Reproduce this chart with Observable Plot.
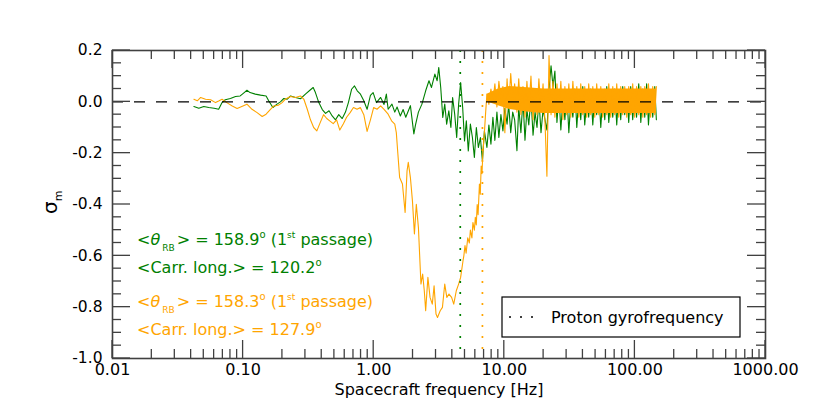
<!DOCTYPE html>
<html>
<head>
<meta charset="utf-8">
<script src="https://cdn.jsdelivr.net/npm/d3@7"></script>
<script src="https://cdn.jsdelivr.net/npm/@observablehq/plot@0.6"></script>
<style>
  body { margin: 0; background: #fff; }
  svg text { white-space: pre; }
</style>
</head>
<body>
<div id="chart"></div>
<script>
// ---------- data ----------
const greenFreq = [0.042,0.0458,0.05,0.0546,0.06,0.065,0.069,0.073,0.08,0.0875,
  0.095,0.102,0.107,0.113,0.124,0.136,0.15,0.157,0.169,0.182,
  0.193,0.205,0.217,0.231,0.252,0.275,0.3,0.328,0.344,0.358,
  0.38,0.404,0.428,0.455,0.481,0.51,0.54,0.574,0.608,0.64,
  0.677,0.713,0.748,0.792,0.84,0.89,0.944,0.99,1.05,1.13,
  1.2,1.25,1.29,1.38,1.45,1.51,1.6,1.68,1.76,1.91,
  2.03,2.09,2.2,2.34,2.5,2.65,2.77,2.94,3.06,3.15,
  3.26,3.38,3.5,3.62,3.76,3.9,4.02,4.17,4.32,4.47,
  4.63,4.8,4.96,5.12,5.3,5.5,5.7,5.9,6.11,6.33,
  6.56,6.8,7.04];
const greenSigma = [-0.018,-0.025,-0.018,-0.022,-0.025,-0.029,-0.003,0.008,0.013,0.021,
  0.023,0.036,0.045,0.036,0.030,0.026,0.023,0.004,-0.022,-0.009,
  0.0,0.013,0.010,0.023,0.017,0.012,0.030,0.047,0.056,0.036,
  -0.003,-0.03,-0.045,-0.035,-0.055,-0.07,-0.05,-0.065,-0.04,-0.003,
  0.049,0.062,0.043,0.030,0.004,-0.029,0.025,0.036,-0.003,0.017,
  -0.01,0.03,-0.029,-0.009,-0.04,-0.02,-0.055,-0.03,-0.06,-0.015,
  -0.125,-0.09,-0.04,-0.009,0.043,0.082,0.056,0.108,0.082,0.134,
  0.056,-0.061,-0.009,-0.087,-0.035,-0.1,0.017,-0.048,-0.139,-0.009,
  0.075,-0.022,-0.152,-0.074,-0.191,-0.087,-0.139,-0.217,-0.1,-0.178,
  -0.139,-0.23,-0.113];

const orangeFreq = [0.042,0.0446,0.0473,0.0516,0.0564,0.0615,0.065,0.069,0.075,0.0826,
  0.09,0.0977,0.107,0.117,0.128,0.14,0.15,0.162,0.172,0.186,
  0.199,0.21,0.231,0.252,0.275,0.292,0.31,0.328,0.347,0.367,
  0.39,0.413,0.437,0.463,0.49,0.52,0.55,0.586,0.62,0.66,
  0.7,0.746,0.79,0.84,0.89,0.944,1.0,1.06,1.13,1.2,
  1.29,1.37,1.45,1.49,1.53,1.58,1.66,1.74,1.8,1.84,
  1.91,1.98,2.05,2.12,2.2,2.3,2.37,2.44,2.5,2.6,
  2.7,2.81,2.9,3.0,3.08,3.23,3.36,3.5,3.63,3.77,
  3.95,4.1,4.29,4.47,4.63,4.83,4.9,5.0,5.1,5.25,
  5.4,5.5,5.65,5.75,5.9,6.0,6.1,6.2,6.3,6.45,
  6.55,6.65,6.75,6.85,7.04,7.2];
const orangeSigma = [0.010,0.004,0.017,0.010,0.008,-0.003,0.003,0.010,-0.003,-0.016,
  -0.026,-0.018,-0.009,-0.029,-0.042,-0.057,-0.048,-0.029,-0.016,-0.013,
  -0.003,0.010,0.021,0.017,0.023,0.010,-0.029,-0.07,-0.10,-0.113,
  -0.08,-0.05,-0.065,-0.075,-0.085,-0.07,-0.11,-0.085,-0.06,-0.042,
  -0.022,-0.029,-0.022,-0.05,-0.115,-0.07,-0.022,-0.029,-0.016,-0.029,
  -0.048,-0.074,-0.087,-0.12,-0.20,-0.295,-0.32,-0.431,-0.269,-0.236,
  -0.295,-0.386,-0.515,-0.399,-0.49,-0.71,-0.671,-0.736,-0.814,-0.684,
  -0.762,-0.788,-0.717,-0.827,-0.84,-0.814,-0.801,-0.71,-0.762,-0.749,
  -0.762,-0.788,-0.736,-0.71,-0.684,-0.619,-0.60,-0.56,-0.59,-0.53,
  -0.55,-0.50,-0.53,-0.47,-0.50,-0.45,-0.48,-0.40,-0.44,-0.32,
  -0.36,-0.25,-0.28,-0.2,-0.12,-0.04];

// high-frequency noisy band (both series share these frequency bins)
const bandFreq = [7.36,7.62,7.90,8.18,8.47,8.78,9.09,9.42,9.76,10.1,
  10.5,10.8,11.2,11.6,12.0,12.5,12.9,13.4,13.9,14.4,
  14.9,15.4,16.0,16.6,17.2,17.8,18.4,19.1,19.8,20.5,
  21.2,22.0,22.8,23.6,24.4,25.3,26.2,27.1,28.1,29.1,
  30.1,31.2,32.3,33.5,34.7,35.9,37.2,38.5,39.9,41.3,
  42.8,44.3,45.9,47.6,49.3,51.0,52.9,54.8,56.7,58.8,
  60.9,63.1,65.3,67.7,70.1,72.6,75.2,77.9,80.7,83.6,
  86.6,89.7,92.9,96.2,99.7,103,107,111,115,119,
  123,127,132,137,142,146];
const greenBand = [-0.178,-0.09,-0.165,-0.06,-0.15,-0.04,-0.139,-0.05,-0.113,-0.025,
  -0.087,-0.01,-0.12,-0.04,-0.07,-0.19,-0.02,-0.12,0.01,-0.15,
  -0.03,-0.09,0.02,-0.13,-0.04,-0.10,0.01,-0.12,-0.03,-0.07,
  -0.11,0.05,0.14,0.06,0.12,-0.08,0.03,-0.11,0.01,-0.07,
  0.04,-0.12,0.00,-0.06,0.05,-0.10,0.02,-0.07,0.06,-0.09,
  0.01,-0.06,0.05,-0.09,0.03,-0.05,0.04,-0.10,0.02,-0.07,
  0.06,-0.08,0.02,-0.06,0.05,-0.09,0.04,-0.07,0.06,-0.05,
  0.04,-0.08,0.06,-0.07,0.03,-0.06,0.07,-0.08,0.05,-0.06,
  0.07,-0.09,0.04,-0.06,0.06,-0.07];
const orangeBand = [0.03,-0.01,0.05,0.0,0.07,-0.02,0.08,0.01,0.06,-0.12,
  0.09,-0.02,0.11,0.0,0.07,-0.04,0.09,-0.05,0.06,-0.06,
  0.08,-0.03,0.10,-0.07,0.05,-0.05,0.09,-0.04,0.07,-0.08,
  -0.29,0.18,-0.05,0.08,-0.06,0.07,-0.04,0.08,-0.07,0.06,
  -0.05,0.07,-0.06,0.08,-0.04,0.06,-0.06,0.07,-0.05,0.06,
  -0.06,0.07,-0.05,0.06,-0.06,0.07,-0.05,0.06,-0.06,0.05,
  -0.05,0.07,-0.06,0.06,-0.05,0.07,-0.06,0.06,-0.05,0.06,
  -0.06,0.06,-0.05,0.07,-0.06,0.06,-0.05,0.06,-0.06,0.06,
  -0.05,0.07,-0.06,0.06,-0.05,0.06];
// solid core of the orange band
const coreFreq = [7.4, 9, 11, 15, 20, 30, 60, 100, 146];
const coreLo   = [0.0, -0.015, -0.03, -0.04, -0.045, -0.045, -0.045, -0.045, -0.045];
const coreHi   = [0.03, 0.05, 0.06, 0.055, 0.05, 0.05, 0.05, 0.05, 0.05];

// proton gyrofrequencies
const gyroFreq = [4.6, 6.8];
const gyroColor = ["green", "orange"];

// axes
const xTicks = [0.01, 0.1, 1, 10, 100, 1000];
const yTicks = [-1.0, -0.8, -0.6, -0.4, -0.2, 0.0, 0.2];
const xLabel = "Spacecraft frequency [Hz]";
const legendLabel = "Proton gyrofrequency";
const annGreen = ["158.9", "120.2"];
const annOrange = ["158.3", "127.9"];

// ---------- build ----------
const W = 830, H = 415, mL = 112, mR = 65, mT = 50, mB = 57;
const rows = (f, s) => f.map((d, i) => ({f: d, s: s[i]}));
const green = rows(greenFreq, greenSigma).concat(rows(bandFreq, greenBand));
const orange = rows(orangeFreq, orangeSigma).concat(rows(bandFreq, orangeBand));
const core = coreFreq.map((d, i) => ({f: d, lo: coreLo[i], hi: coreHi[i]}));
const xMinor = [0.01, 0.1, 1, 10, 100].flatMap(d => [2,3,4,5,6,7,8,9].map(k => k * d));
const yMinor = d3.range(-19, 4).map(k => k * 0.05).filter(v => Math.abs(Math.round(v / 0.2) * 0.2 - v) > 1e-6);
const fc = "#404040";
const font = "DejaVu Sans";

const plot = Plot.plot({
  width: W, height: H,
  marginLeft: mL, marginRight: mR, marginTop: mT, marginBottom: mB,
  style: {fontFamily: font, background: "#fff"},
  x: {type: "log", domain: [0.01, 1000]},
  y: {domain: [-1, 0.2]},
  marks: [
    Plot.line(green, {x: "f", y: "s", stroke: "green", strokeWidth: 1.1}),
    Plot.areaY(core, {x: "f", y1: "lo", y2: "hi", fill: "orange"}),
    Plot.line(orange, {x: "f", y: "s", stroke: "orange", strokeWidth: 1.1}),
    Plot.ruleY([0], {stroke: "black", strokeWidth: 1.3, strokeDasharray: "11,11"}),
    Plot.ruleX([gyroFreq[0]], {x: d => d, stroke: gyroColor[0], strokeWidth: 1.7, strokeDasharray: "2,9"}),
    Plot.ruleX([gyroFreq[1]], {x: d => d, stroke: gyroColor[1], strokeWidth: 1.7, strokeDasharray: "2,9"}),
    Plot.frame({stroke: fc, strokeWidth: 1.6}),
    Plot.axisX({ticks: xTicks, tickSize: 0, tickPadding: 5, tickFormat: d => d.toFixed(2), fontSize: 16, label: null}),
    Plot.axisY({ticks: yTicks, tickSize: 0, tickPadding: 10, tickFormat: d => d.toFixed(1), fontSize: 15.5, label: null}),
    Plot.text([xLabel], {text: d => d, frameAnchor: "bottom", dy: 31, fontSize: 16, lineAnchor: "middle", fill: "black"})
  ]
});

const svg = d3.select(plot);
const sx = plot.scale("x"), sy = plot.scale("y");
const pxLeft = sx.apply(0.01), pxRight = sx.apply(1000);
const pxBottom = sy.apply(-1), pxTop = sy.apply(0.2);

// inward ticks on all four sides, placed with the plot's own scales
const tg = svg.append("g").attr("stroke", fc).attr("stroke-width", 1.3);
function xt(v, len) {
  const x = sx.apply(v);
  tg.append("line").attr("x1", x).attr("x2", x).attr("y1", pxBottom).attr("y2", pxBottom - len);
  tg.append("line").attr("x1", x).attr("x2", x).attr("y1", pxTop).attr("y2", pxTop + len);
}
function yt(v, len) {
  const y = sy.apply(v);
  tg.append("line").attr("y1", y).attr("y2", y).attr("x1", pxLeft).attr("x2", pxLeft + len);
  tg.append("line").attr("y1", y).attr("y2", y).attr("x1", pxRight).attr("x2", pxRight - len);
}
xTicks.forEach(v => xt(v, 18));
xMinor.forEach(v => xt(v, 9));
yTicks.forEach(v => yt(v, 18));
yMinor.forEach(v => yt(v, 9));

// y-axis label sigma_m
const yl = svg.append("text")
  .attr("transform", "translate(57,214) rotate(-90)").attr("text-anchor", "start")
  .attr("font-family", font).attr("font-size", 20).attr("fill", "black");
yl.append("tspan").text("σ");
yl.append("tspan").attr("dy", 5).attr("font-size", 11).text("m");

// annotations
function annotate(y, color, theta, lon) {
  const t = svg.append("text").attr("x", 137).attr("y", y).attr("text-anchor", "start")
    .attr("font-family", font).attr("font-size", 16).attr("fill", color);
  t.append("tspan").text("<");
  t.append("tspan").attr("font-style", "italic").text("θ");
  t.append("tspan").attr("dx", 2).attr("dy", 6).attr("font-size", 9).text("RB");
  t.append("tspan").attr("dx", 2).attr("dy", -6).text("> = " + theta);
  t.append("tspan").attr("dy", -7).attr("font-size", 10).text("o");
  t.append("tspan").attr("dy", 7).text(" (1");
  t.append("tspan").attr("dy", -7).attr("font-size", 9).text("st");
  t.append("tspan").attr("dy", 7).text(" passage)");
  const t2 = svg.append("text").attr("x", 137).attr("y", y + 28).attr("text-anchor", "start")
    .attr("font-family", font).attr("font-size", 16).attr("fill", color);
  t2.append("tspan").text("<Carr. long.> = " + lon);
  t2.append("tspan").attr("dy", -7).attr("font-size", 10).text("o");
}
annotate(245, "green", annGreen[0], annGreen[1]);
annotate(307, "orange", annOrange[0], annOrange[1]);

// legend box
const lg = svg.append("g");
lg.append("rect").attr("x", 502).attr("y", 297).attr("width", 238).attr("height", 40)
  .attr("fill", "white").attr("stroke", "black").attr("stroke-width", 1.2);
lg.append("line").attr("x1", 509).attr("x2", 537).attr("y1", 317).attr("y2", 317)
  .attr("stroke", "black").attr("stroke-width", 1.7).attr("stroke-dasharray", "2,9");
lg.append("text").attr("x", 551).attr("y", 323).attr("text-anchor", "start").attr("font-family", font)
  .attr("font-size", 16).attr("fill", "black").text(legendLabel);

document.getElementById("chart").appendChild(plot);
</script>
</body>
</html>
